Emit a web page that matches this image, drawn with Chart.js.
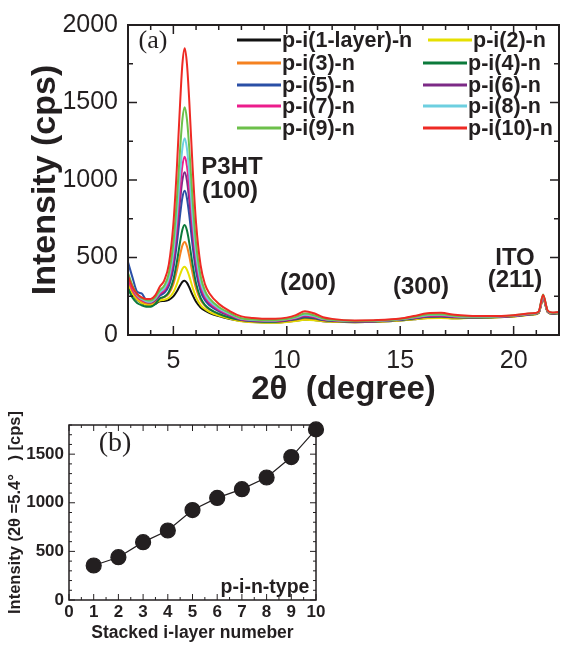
<!DOCTYPE html>
<html>
<head>
<meta charset="utf-8">
<script src="https://cdn.jsdelivr.net/npm/chart.js@4.4.0/dist/chart.umd.min.js"></script>
<style>
  html, body { margin: 0; padding: 0; background: #fff; width: 563px; height: 645px; overflow: hidden; position: relative; }
  #wrapA { position: absolute; left: 0; top: 0; width: 570px; height: 410px; }
  #wrapB { position: absolute; left: 0; top: 400px; width: 340px; height: 245px; }
  .lbl { position: absolute; font-family: "Liberation Sans", Arial, sans-serif; font-weight: bold; color: #231f20;
         white-space: nowrap; transform: translate(-50%, -50%); line-height: 1; }
  .tag { position: absolute; font-family: "Liberation Serif", serif; color: #231f20; font-size: 26px;
         transform: translate(-50%, -50%); line-height: 1; }
  .leg { position: absolute; display: flex; align-items: center; transform: translateY(-50%);
         font-family: "Liberation Sans", Arial, sans-serif; font-weight: bold; font-size: 21.5px; color: #231f20; white-space: nowrap; }
  .leg span.ln { display: inline-block; width: 44px; height: 3px; margin-right: 1px; }
</style>
</head>
<body>
<div id="wrapA"><canvas id="xrdChart"></canvas></div>
<div id="wrapB"><canvas id="peakChart"></canvas></div>

<div class="tag" style="left:153px; top:40px;">(a)</div>
<div class="lbl" style="left:232px; top:166px; font-size:24px;">P3HT</div>
<div class="lbl" style="left:230px; top:190px; font-size:24px;">(100)</div>
<div class="lbl" style="left:308px; top:282px; font-size:24px;">(200)</div>
<div class="lbl" style="left:421px; top:286px; font-size:24px;">(300)</div>
<div class="lbl" style="left:515px; top:257px; font-size:24px;">ITO</div>
<div class="lbl" style="left:515px; top:279px; font-size:24px;">(211)</div>
<div id="legend"></div>

<div class="tag" style="left:115px; top:442px; font-size:28px;">(b)</div>
<div class="lbl" style="left:265px; top:587px; font-size:19.5px;">p-i-n-type</div>

<script>
// ---- data: XRD patterns (a) ----
const twoTheta = [3.0, 3.2, 3.4, 3.6, 3.8, 4.0, 4.2,
  4.4, 4.6, 4.8, 5.0, 5.15, 5.3, 5.4, 5.5, 5.6, 5.7, 5.85, 6.0, 6.2, 6.4, 6.6, 7.0, 7.5,
  8.0, 8.5, 9.0, 9.5, 10.0, 10.4, 10.8, 11.2, 11.6, 12.0, 13.0, 14.0, 15.0, 15.6, 16.2, 16.8, 17.4,
  18.0, 19.0, 20.0, 20.8, 21.1, 21.3, 21.5, 21.7, 22.0];

const seriesNames = ["p-i(1-layer)-n", "p-i(2)-n", "p-i(3)-n", "p-i(4)-n", "p-i(5)-n",
  "p-i(6)-n", "p-i(7)-n", "p-i(8)-n", "p-i(9)-n", "p-i(10)-n"];
const seriesColors = ["#111111", "#e6e000", "#f58220", "#0b7a3b", "#2a4fa6",
  "#7c2a86", "#ec1c8c", "#6dcfe0", "#6cc04a", "#ee2a24"];

const layer1 = [320, 262, 228, 207, 195, 192, 200,
  218, 220, 227, 249, 280, 321, 343, 350, 336, 308, 257, 214, 178, 157, 142, 122, 103,
  91, 84, 81, 81, 86, 92, 100, 97, 89, 86, 83, 86, 94, 102, 109, 111, 108, 110, 113, 120, 132, 142, 232, 149, 137, 140];
const layer2 = [330, 266, 230, 208, 197, 195, 205,
  223, 227, 240, 276, 327, 392, 428, 440, 420, 380, 306, 244, 193, 166, 148, 125, 105,
  89, 82, 79, 79, 84, 90, 98, 95, 88, 85, 82, 85, 93, 101, 108, 110, 107, 109, 112, 119, 131, 141, 230, 148, 137, 140];
const layer3 = [350, 282, 242, 217, 205, 203, 215,
  235, 244, 267, 328, 412, 519, 578, 600, 571, 509, 395, 300, 225, 187, 164, 137, 113,
  94, 87, 84, 84, 90, 98, 108, 104, 94, 89, 85, 87, 96, 105, 114, 116, 112, 112, 114, 121, 133, 143, 235, 150, 138, 141];
const layer4 = [300, 240, 207, 192, 183, 182, 200,
  236, 247, 278, 357, 467, 604, 681, 710, 674, 596, 452, 333, 239, 193, 167, 136, 111,
  96, 89, 86, 86, 93, 101, 113, 108, 96, 91, 86, 88, 98, 107, 117, 119, 114, 113, 115, 122, 134, 144, 252, 151, 139, 142];
const layer5 = [470, 370, 280, 268, 225, 212, 225,
  254, 272, 316, 429, 584, 779, 888, 930, 881, 773, 574, 411, 283, 222, 190, 153, 123,
  98, 91, 88, 88, 95, 104, 117, 111, 98, 92, 87, 89, 99, 108, 119, 121, 116, 114, 115, 122, 134, 144, 240, 151, 139, 142];
const layer6 = [380, 302, 252, 228, 213, 210, 228,
  262, 282, 334, 467, 647, 874, 1001, 1050, 994, 870, 640, 452, 305, 236, 200, 159, 127,
  100, 93, 90, 90, 97, 107, 121, 115, 100, 94, 88, 90, 100, 110, 121, 123, 117, 115, 116, 123, 135, 145, 242, 152, 140, 143];
const layer7 = [365, 292, 248, 226, 214, 212, 230,
  267, 290, 349, 497, 699, 952, 1094, 1150, 1088, 950, 694, 485, 322, 246, 207, 163, 129,
  102, 95, 92, 92, 99, 110, 126, 118, 102, 95, 89, 91, 101, 112, 124, 126, 119, 116, 117, 124, 136, 146, 245, 153, 141, 144];
const layer8 = [390, 310, 258, 232, 218, 215, 235,
  276, 302, 368, 536, 762, 1047, 1207, 1270, 1201, 1046, 760, 527, 345, 261, 218, 171, 135,
  104, 97, 94, 94, 101, 113, 131, 122, 104, 96, 90, 92, 102, 114, 128, 130, 121, 117, 118, 125, 137, 147, 250, 154, 142, 145];
const layer9 = [400, 318, 262, 237, 225, 222, 243,
  288, 319, 398, 597, 867, 1205, 1395, 1470, 1389, 1207, 869, 594, 381, 283, 234, 181, 141,
  108, 100, 96, 96, 103, 117, 138, 127, 107, 98, 91, 93, 103, 116, 132, 134, 124, 119, 119, 126, 138, 148, 262, 155, 143, 146];
const layer10 = [380, 308, 265, 242, 232, 233, 256,
  311, 353, 456, 716, 1066, 1505, 1752, 1850, 1747, 1512, 1077, 723, 450, 325, 266, 201, 153,
  120, 110, 105, 105, 112, 128, 154, 140, 115, 104, 94, 96, 106, 122, 140, 143, 130, 124, 122, 128, 140, 150, 258, 158, 145, 148];
const allLayers = [layer1, layer2, layer3, layer4, layer5, layer6, layer7, layer8, layer9, layer10];

// ---- data: peak intensity at 2θ = 5.4° (b) ----
const layerCount = [1, 2, 3, 4, 5, 6, 7, 8, 9, 10];
const peakIntensity = [355, 440, 595, 715, 925, 1050, 1140, 1260, 1470, 1755];

const ink = "#231f20";
const sans = "'Liberation Sans', Arial, sans-serif";

function isMajor(v, step) {
  const r = v / step;
  return Math.abs(r - Math.round(r)) < 1e-6;
}

// inward tick marks on all four sides + frame
const inwardTicks = {
  id: "inwardTicks",
  afterDraw(chart, args, opts) {
    const { ctx, chartArea: a } = chart;
    const sx = chart.scales.x, sy = chart.scales.y;
    ctx.save();
    ctx.strokeStyle = ink;
    ctx.lineWidth = opts.tickWidth;
    ctx.beginPath();
    sx.ticks.forEach(t => {
      const p = sx.getPixelForValue(t.value);
      const len = isMajor(t.value, opts.xMajor) ? opts.majorLen : opts.minorLen;
      ctx.moveTo(p, a.bottom); ctx.lineTo(p, a.bottom - len);
      ctx.moveTo(p, a.top); ctx.lineTo(p, a.top + len);
    });
    sy.ticks.forEach(t => {
      const p = sy.getPixelForValue(t.value);
      const len = isMajor(t.value, opts.yMajor) ? opts.majorLen : opts.minorLen;
      ctx.moveTo(a.left, p); ctx.lineTo(a.left + len, p);
      ctx.moveTo(a.right, p); ctx.lineTo(a.right - len, p);
    });
    ctx.stroke();
    ctx.lineWidth = opts.frameWidth;
    ctx.strokeRect(a.left, a.top, a.right - a.left, a.bottom - a.top);
    ctx.restore();
  }
};

// legend for (a), two columns inside the plot
const legendSpots = [
  [237, 40], [428, 40], [237, 62.5], [423, 62.5], [237, 84.5],
  [423, 84.5], [237, 106], [423, 106], [237, 128], [423, 128]
];
const legendBox = document.getElementById("legend");
seriesNames.forEach((name, i) => {
  const d = document.createElement("div");
  d.className = "leg";
  d.style.left = legendSpots[i][0] + "px";
  d.style.top = legendSpots[i][1] + "px";
  d.innerHTML = '<span class="ln" style="background:' + seriesColors[i] + '"></span>' + name;
  legendBox.appendChild(d);
});

// chart (a)
new Chart(document.getElementById("xrdChart"), {
  type: "line",
  data: {
    datasets: allLayers.map((ys, i) => ({
      label: seriesNames[i],
      data: twoTheta.map((x, j) => ({ x: x, y: ys[j] })),
      borderColor: seriesColors[i],
      borderWidth: 2,
      pointRadius: 0,
      cubicInterpolationMode: "monotone",
      order: allLayers.length - 1 - i
    }))
  },
  options: {
    responsive: true,
    maintainAspectRatio: false,
    animation: false,
    layout: { padding: { top: 23, right: 5, left: 0, bottom: 0 } },
    plugins: {
      legend: { display: false },
      tooltip: { enabled: false },
      inwardTicks: { xMajor: 5, yMajor: 500, majorLen: 9, minorLen: 5, tickWidth: 1.5, frameWidth: 2 }
    },
    scales: {
      x: {
        type: "linear", min: 3, max: 22,
        grid: { display: false, drawTicks: false },
        border: { display: false },
        ticks: {
          stepSize: 1, autoSkip: false, maxRotation: 0, padding: 11,
          color: ink, font: { family: sans, size: 25 },
          callback: v => (isMajor(v, 5) ? v : "")
        },
        title: {
          display: true, text: "2\u03b8  (degree)", color: ink,
          font: { family: sans, size: 33, weight: "bold" },
          padding: { top: 0, bottom: 0 }
        },
        afterFit: s => { s.height = 75; }
      },
      y: {
        min: 0, max: 2000,
        grid: { display: false, drawTicks: false },
        border: { display: false },
        ticks: {
          stepSize: 250, autoSkip: false, padding: 10,
          color: ink, font: { family: sans, size: 25 },
          callback: v => (isMajor(v, 500) ? v : "")
        },
        title: {
          display: true, text: "Intensity (cps)", color: ink,
          font: { family: sans, size: 34, weight: "bold" },
          padding: { top: 25, bottom: 0 }
        },
        afterFit: s => { s.width = 128; }
      }
    }
  },
  plugins: [inwardTicks]
});

// chart (b)
new Chart(document.getElementById("peakChart"), {
  type: "line",
  data: {
    datasets: [{
      data: layerCount.map((n, i) => ({ x: n, y: peakIntensity[i] })),
      borderColor: "#231f20",
      borderWidth: 1.2,
      pointRadius: 7.5,
      pointBackgroundColor: "#231f20",
      pointBorderColor: "#231f20",
      tension: 0,
      clip: false
    }]
  },
  options: {
    responsive: true,
    maintainAspectRatio: false,
    animation: false,
    layout: { padding: { top: 25, right: 24, left: 0, bottom: 0 } },
    plugins: {
      legend: { display: false },
      tooltip: { enabled: false },
      inwardTicks: { xMajor: 1, yMajor: 500, majorLen: 6, minorLen: 3, tickWidth: 1, frameWidth: 1.5 }
    },
    scales: {
      x: {
        type: "linear", min: 0, max: 10,
        grid: { display: false, drawTicks: false },
        border: { display: false },
        ticks: {
          stepSize: 0.5, autoSkip: false, maxRotation: 0, padding: 2,
          color: ink, font: { family: sans, size: 17, weight: "bold" },
          callback: v => (isMajor(v, 1) ? v : "")
        },
        title: {
          display: true, text: "Stacked i-layer numeber", color: ink,
          font: { family: sans, size: 17.5, weight: "bold" },
          padding: { top: 0, bottom: 1 }
        },
        afterFit: s => { s.height = 45; }
      },
      y: {
        min: 0, max: 1800,
        grid: { display: false, drawTicks: false },
        border: { display: false },
        ticks: {
          stepSize: 100, autoSkip: false, padding: 5,
          color: ink, font: { family: sans, size: 17, weight: "bold" },
          callback: v => (isMajor(v, 500) ? v : "")
        },
        title: {
          display: true, text: "Intensity (2\u03b8 =5.4\u00b0   ) [cps]", color: ink,
          font: { family: sans, size: 16.5, weight: "bold" },
          padding: { top: 6, bottom: 0 }
        },
        afterFit: s => { s.width = 69; }
      }
    }
  },
  plugins: [inwardTicks]
});
</script>
</body>
</html>
